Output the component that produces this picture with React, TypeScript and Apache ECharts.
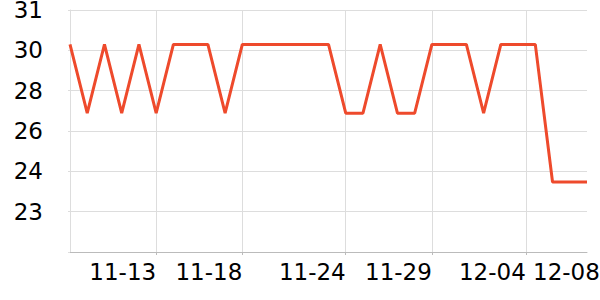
import React, { useEffect, useRef } from "react";
import * as echarts from "echarts";

const year = 2023;
const xDates = [
  "11-08", "11-09", "11-10", "11-11", "11-12", "11-13", "11-14", "11-15", "11-16", "11-17",
  "11-18", "11-19", "11-20", "11-21", "11-22", "11-23", "11-24", "11-25", "11-26", "11-27",
  "11-28", "11-29", "11-30", "12-01", "12-02", "12-03", "12-04", "12-05", "12-06", "12-07",
  "12-08",
];
const seriesValues = [
  30.3, 27.4, 30.3, 27.4, 30.3, 27.4, 30.3, 30.3, 30.3, 27.4,
  30.3, 30.3, 30.3, 30.3, 30.3, 30.3, 27.4, 27.4, 30.3, 27.4,
  27.4, 30.3, 30.3, 30.3, 27.4, 30.3, 30.3, 30.3, 24.5, 24.5,
  24.5,
];
const xTickTimes = ["11-13 00:00", "11-18 00:00", "11-24 00:00", "11-29 00:00", "12-04 10:48"];
const xLabelTimes = [...xTickTimes, "12-08 00:00"];
const xTickLabels = ["11-13", "11-18", "11-24", "11-29", "12-04", "12-08"];
const yMin = 21.55;
const yInterval = 1.7;
const yMax = 31.75;
const yTickLabels = ["", "23", "24", "26", "28", "30", "31"];

const DAY = 86400000;
function toTime(s: string): number {
  const [md, hm] = s.split(" ");
  const [m, d] = md.split("-").map(Number);
  const [h, mi] = (hm || "00:00").split(":").map(Number);
  return Date.UTC(year, m - 1, d, h, mi);
}
const t0 = toTime(xDates[0]);
const toDay = (s: string) => Math.round(((toTime(s) - t0) / DAY) * 1000) / 1000;

export default function App() {
  const ref = useRef<HTMLDivElement>(null);
  useEffect(() => {
    if (!ref.current) return;
    const chart = echarts.init(ref.current, undefined, { renderer: "svg" });
    const tickVals = xTickTimes.map(toDay);
    const labelVals = xLabelTimes.map(toDay);
    const font = "DejaVu Sans";
    chart.setOption({
      animation: false,
      grid: { left: 70, right: 13, top: 10, bottom: 48, outerBoundsMode: "none" },
      xAxis: {
        type: "value",
        min: 0,
        max: toDay(xDates[xDates.length - 1]),
        axisLine: { show: true, lineStyle: { color: "#bbbbbb", width: 1 } },
        axisTick: { show: true, length: 3, customValues: tickVals, lineStyle: { color: "#bbbbbb" } },
        splitLine: { show: true, lineStyle: { color: "#dddddd", width: 1 } },
        axisLabel: {
          customValues: labelVals,
          align: "right",
          margin: 8,
          color: "#000",
          fontSize: 23,
          fontFamily: font,
          showMinLabel: true,
          showMaxLabel: true,
          formatter: (v: number) => {
            const i = labelVals.indexOf(v);
            const t = i >= 0 ? xTickLabels[i] : "";
            return i === labelVals.length - 1 ? `{end|${t}}` : t;
          },
          rich: {
            end: { width: 54, align: "left", fontSize: 23, fontFamily: font, color: "#000" },
          },
        },
      },
      yAxis: {
        type: "value",
        min: yMin,
        max: yMax,
        interval: yInterval,
        axisLine: { show: true, lineStyle: { color: "#dddddd" } },
        axisTick: { show: true, length: 2, lineStyle: { color: "#dddddd" } },
        splitLine: { show: true, lineStyle: { color: "#dddddd", width: 1 } },
        axisLabel: {
          margin: 27,
          color: "#000",
          fontSize: 23,
          lineHeight: 20,
          fontFamily: font,
          formatter: (v: number) => yTickLabels[Math.round((v - yMin) / yInterval)] ?? "",
        },
      },
      series: [
        {
          type: "line",
          data: xDates.map((d, i) => [toDay(d), seriesValues[i]]),
          showSymbol: false,
          lineStyle: { color: "#ee4a2c", width: 3 },
          itemStyle: { color: "#ee4a2c" },
        },
      ],
    });
    return () => chart.dispose();
  }, []);
  return (
    <div
      ref={ref}
      style={{ position: "absolute", left: 0, top: 0, width: 600, height: 300 }}
    />
  );
}
